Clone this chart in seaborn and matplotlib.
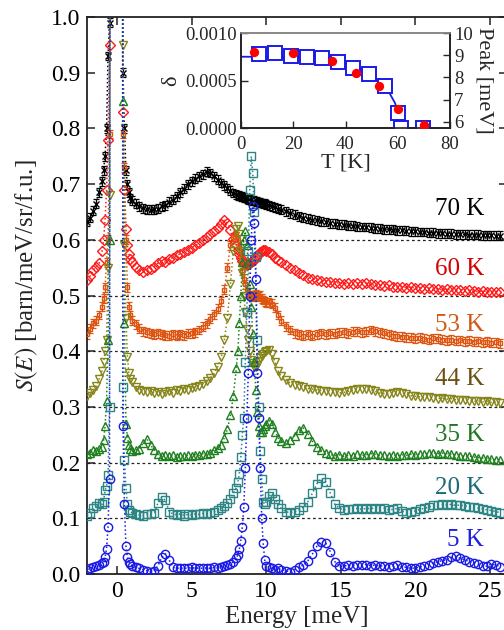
import matplotlib
matplotlib.use("Agg")
import matplotlib.pyplot as plt
from matplotlib.ticker import FormatStrFormatter
import seaborn as sns

# ---------------- data ----------------
energy = [-2.0, -1.8, -1.6, -1.4, -1.2, -1.0, -0.9, -0.8, -0.7, -0.6, -0.5,
          -0.45, 0.0, 0.35,
          0.4, 0.5, 0.6, 0.7, 0.8, 0.9, 1.0,
          1.25, 1.5, 1.75, 2.0, 2.25, 2.5, 2.75, 3.0, 3.25, 3.5, 3.75, 4.0,
          4.25, 4.5, 4.75, 5.0, 5.25, 5.5, 5.75, 6.0, 6.25, 6.5, 6.75, 7.0,
          7.2, 7.4, 7.6, 7.8,
          8.0, 8.1, 8.2, 8.3, 8.4, 8.5, 8.6, 8.7, 8.8, 8.9, 9.0, 9.1, 9.2,
          9.3, 9.4, 9.5, 9.6, 9.7, 9.8, 9.9, 10.0,
          10.2, 10.4, 10.6, 10.8, 11.0,
          11.3, 11.6, 11.9, 12.2, 12.5, 12.8, 13.1, 13.4, 13.7, 14.0,
          14.3, 14.6, 14.9, 15.2, 15.5, 15.8, 16.1, 16.4, 16.7, 17.0,
          17.3, 17.6, 17.9, 18.2, 18.5, 18.8, 19.1, 19.4, 19.7, 20.0,
          20.3, 20.6, 20.9, 21.2, 21.5, 21.8, 22.1, 22.4, 22.7, 23.0,
          23.3, 23.6, 23.9, 24.2, 24.5, 24.8, 25.1, 25.4, 25.7]

s_5K = [0.008, 0.010, 0.012, 0.014, 0.016, 0.020, 0.022, 0.030, 0.045, 0.085, 0.170,
        1.8, 30.0, 1.8,
        0.265, 0.125, 0.050, 0.030, 0.022, 0.018, 0.015,
        0.012, 0.010, 0.008, 0.006, 0.004, 0.006, 0.015, 0.030, 0.036, 0.025, 0.012, 0.010,
        0.010, 0.011, 0.010, 0.012, 0.010, 0.011, 0.010, 0.011, 0.010, 0.012, 0.011, 0.013,
        0.014, 0.016, 0.018, 0.022,
        0.028, 0.035, 0.045, 0.060, 0.085, 0.120, 0.190, 0.280, 0.360, 0.500, 0.600, 0.660,
        0.630, 0.530, 0.360, 0.280, 0.190, 0.100, 0.055, 0.025, 0.015,
        0.012, 0.010, 0.008, 0.010, 0.008,
        0.006, 0.004, 0.008, 0.012, 0.016, 0.024, 0.036, 0.050, 0.058, 0.055,
        0.040, 0.022, 0.015, 0.014, 0.016, 0.015, 0.017, 0.016, 0.017, 0.015,
        0.016, 0.014, 0.015, 0.013, 0.014, 0.016, 0.013, 0.012, 0.010, 0.011,
        0.013, 0.014, 0.016, 0.020, 0.022, 0.024, 0.026, 0.030, 0.032, 0.028,
        0.026, 0.022, 0.020, 0.018, 0.015, 0.014, 0.018, 0.016, 0.013]

s_20K = [0.105, 0.110, 0.118, 0.122, 0.128, 0.125, 0.130, 0.150, 0.158, 0.178, 0.300,
         1.8, 30.0, 1.8,
         0.335, 0.205, 0.155, 0.125, 0.115, 0.112, 0.110,
         0.108, 0.106, 0.105, 0.107, 0.108, 0.110, 0.128, 0.138, 0.132, 0.112, 0.108, 0.106,
         0.108, 0.105, 0.107, 0.106, 0.108, 0.107, 0.109, 0.108, 0.110, 0.112, 0.115, 0.118,
         0.122, 0.128, 0.135, 0.145,
         0.155, 0.165, 0.180, 0.210, 0.250, 0.280, 0.380, 0.470, 0.580, 0.690, 0.750, 0.720,
         0.650, 0.570, 0.420, 0.300, 0.220, 0.170, 0.130, 0.125, 0.130,
         0.140, 0.145, 0.135, 0.125, 0.118,
         0.112, 0.110, 0.112, 0.115, 0.120, 0.130, 0.145, 0.162, 0.172, 0.165,
         0.145, 0.125, 0.118, 0.115, 0.117, 0.116, 0.118, 0.116, 0.118, 0.117,
         0.119, 0.116, 0.118, 0.115, 0.116, 0.118, 0.113, 0.110, 0.112, 0.113,
         0.116, 0.118, 0.120, 0.123, 0.124, 0.125, 0.124, 0.125, 0.123, 0.124,
         0.122, 0.121, 0.120, 0.118, 0.117, 0.115, 0.114, 0.112, 0.110]

s_35K = [0.215, 0.218, 0.222, 0.220, 0.225, 0.228, 0.240, 0.265, 0.310, 0.420, 0.600,
         1.8, 30.0, 1.8,
         0.850, 0.450, 0.270, 0.245, 0.232, 0.225, 0.220,
         0.222, 0.225, 0.235, 0.242, 0.232, 0.222, 0.215, 0.212, 0.214, 0.211, 0.213, 0.210,
         0.212, 0.211, 0.213, 0.212, 0.214, 0.213, 0.216, 0.215, 0.218, 0.222, 0.226, 0.232,
         0.245, 0.260, 0.285, 0.320,
         0.370, 0.400, 0.450, 0.500, 0.560, 0.600, 0.615, 0.590, 0.560, 0.520, 0.480, 0.430,
         0.380, 0.330, 0.290, 0.265, 0.255, 0.255, 0.260, 0.265, 0.270,
         0.275, 0.270, 0.255, 0.245, 0.238,
         0.235, 0.240, 0.248, 0.258, 0.262, 0.252, 0.238, 0.228, 0.222, 0.218,
         0.215, 0.212, 0.214, 0.211, 0.213, 0.212, 0.215, 0.213, 0.214, 0.216,
         0.215, 0.213, 0.214, 0.212, 0.213, 0.212, 0.214, 0.213, 0.215, 0.214,
         0.216, 0.215, 0.217, 0.218, 0.216, 0.217, 0.216, 0.215, 0.214, 0.212,
         0.211, 0.212, 0.210, 0.209, 0.208, 0.207, 0.206, 0.205, 0.205]

s_44K = [0.320, 0.325, 0.330, 0.338, 0.350, 0.365, 0.380, 0.400, 0.420, 0.550, 0.680,
         1.8, 30.0, 1.8,
         0.950, 0.590, 0.460, 0.390, 0.360, 0.350, 0.345,
         0.335, 0.330, 0.328, 0.326, 0.328, 0.325, 0.327, 0.324, 0.326, 0.328, 0.325, 0.330,
         0.328, 0.332, 0.330, 0.334, 0.336, 0.338, 0.342, 0.346, 0.352, 0.360, 0.372, 0.390,
         0.420, 0.460, 0.520, 0.580,
         0.620, 0.625, 0.610, 0.580, 0.540, 0.500, 0.470, 0.440, 0.420, 0.400, 0.385, 0.378,
         0.372, 0.372, 0.376, 0.382, 0.388, 0.392, 0.395, 0.398, 0.400,
         0.402, 0.395, 0.380, 0.365, 0.355,
         0.348, 0.343, 0.340, 0.338, 0.336, 0.333, 0.332, 0.330, 0.329, 0.328,
         0.326, 0.327, 0.325, 0.326, 0.328, 0.330, 0.332, 0.333, 0.332, 0.330,
         0.328, 0.325, 0.324, 0.323, 0.325, 0.327, 0.325, 0.323, 0.320, 0.319,
         0.318, 0.317, 0.318, 0.316, 0.315, 0.316, 0.314, 0.315, 0.313, 0.312,
         0.313, 0.311, 0.310, 0.311, 0.309, 0.310, 0.308, 0.309, 0.307]

s_53K = [0.430, 0.440, 0.450, 0.455, 0.465, 0.480, 0.495, 0.515, 0.560, 0.600, 0.790,
         1.8, 30.0, 1.8,
         0.790, 0.730, 0.600, 0.515, 0.480, 0.465, 0.455,
         0.448, 0.440, 0.436, 0.434, 0.432, 0.430, 0.432, 0.430, 0.429, 0.428, 0.430, 0.428,
         0.430, 0.429, 0.431, 0.432, 0.434, 0.438, 0.444, 0.450, 0.458, 0.466, 0.476, 0.490,
         0.510, 0.550, 0.590, 0.605,
         0.610, 0.600, 0.585, 0.565, 0.545, 0.530, 0.520, 0.510, 0.505, 0.500, 0.500, 0.498,
         0.500, 0.502, 0.500, 0.498, 0.500, 0.495, 0.492, 0.490, 0.488,
         0.488, 0.485, 0.478, 0.465, 0.455,
         0.445, 0.438, 0.432, 0.430, 0.428, 0.430, 0.428, 0.430, 0.432, 0.430,
         0.432, 0.431, 0.433, 0.434, 0.432, 0.435, 0.436, 0.434, 0.435, 0.438,
         0.436, 0.434, 0.432, 0.430, 0.428, 0.427, 0.426, 0.425, 0.424, 0.423,
         0.424, 0.422, 0.421, 0.423, 0.422, 0.421, 0.420, 0.421, 0.419, 0.420,
         0.418, 0.419, 0.417, 0.418, 0.416, 0.417, 0.415, 0.416, 0.414]

s_60K = [0.528, 0.535, 0.545, 0.552, 0.558, 0.580, 0.600, 0.635, 0.690, 0.780, 0.950,
         1.8, 30.0, 1.8,
         0.830, 0.690, 0.620, 0.590, 0.575, 0.565, 0.560,
         0.552, 0.545, 0.542, 0.545, 0.548, 0.552, 0.558, 0.562, 0.560, 0.565, 0.568, 0.572,
         0.575, 0.578, 0.582, 0.586, 0.590, 0.594, 0.600, 0.605, 0.610, 0.615, 0.622, 0.628,
         0.635, 0.630, 0.618, 0.602,
         0.590, 0.582, 0.575, 0.568, 0.562, 0.558, 0.556, 0.555, 0.556, 0.558, 0.560, 0.562,
         0.565, 0.568, 0.572, 0.575, 0.578, 0.580, 0.582, 0.582, 0.580,
         0.578, 0.574, 0.568, 0.564, 0.560,
         0.555, 0.550, 0.545, 0.540, 0.536, 0.532, 0.530, 0.528, 0.526, 0.525,
         0.524, 0.522, 0.523, 0.521, 0.522, 0.520, 0.522, 0.521, 0.523, 0.520,
         0.518, 0.519, 0.517, 0.518, 0.516, 0.515, 0.516, 0.514, 0.515, 0.513,
         0.514, 0.512, 0.513, 0.511, 0.512, 0.510, 0.511, 0.510, 0.509, 0.510,
         0.508, 0.509, 0.508, 0.507, 0.508, 0.507, 0.506, 0.507, 0.506]

s_70K = [0.632, 0.640, 0.652, 0.665, 0.685, 0.705, 0.725, 0.750, 0.800, 0.930, 0.990,
         1.8, 30.0, 1.8,
         0.900, 0.800, 0.725, 0.700, 0.685, 0.675, 0.670,
         0.665, 0.660, 0.657, 0.655, 0.654, 0.655, 0.656, 0.660, 0.662, 0.668, 0.672, 0.678,
         0.685, 0.692, 0.700, 0.705, 0.710, 0.714, 0.718, 0.722, 0.720, 0.714, 0.708, 0.702,
         0.698, 0.693, 0.688, 0.684,
         0.682, 0.680, 0.679, 0.678, 0.677, 0.676, 0.675, 0.674, 0.673, 0.672, 0.671, 0.670,
         0.670, 0.669, 0.668, 0.667, 0.667, 0.666, 0.665, 0.665, 0.664,
         0.662, 0.660, 0.658, 0.656, 0.654,
         0.651, 0.648, 0.645, 0.642, 0.640, 0.638, 0.636, 0.635, 0.633, 0.632,
         0.630, 0.629, 0.628, 0.627, 0.626, 0.625, 0.624, 0.623, 0.623, 0.622,
         0.621, 0.620, 0.619, 0.619, 0.618, 0.617, 0.617, 0.616, 0.615, 0.615,
         0.614, 0.614, 0.613, 0.613, 0.612, 0.612, 0.611, 0.611, 0.610, 0.610,
         0.610, 0.609, 0.609, 0.609, 0.608, 0.608, 0.608, 0.607, 0.607]

temp_labels = ["70 K", "60 K", "53 K", "44 K", "35 K", "20 K", "5 K"]
baselines = [0.6, 0.5, 0.4, 0.3, 0.2, 0.1]

# inset data
T_delta = [6.9, 13.0, 19.1, 25.2, 31.0, 37.1, 43.0, 49.0, 55.1, 60.1, 61.3, 69.7]
delta = [0.00078, 0.000786, 0.00076, 0.00075, 0.00074, 0.00070, 0.00063,
         0.00057, 0.00044, 0.00016, 0.0, 0.0]
T_fit = [0, 10, 20, 25, 30, 35, 40, 45, 50, 55, 57, 59, 60, 61, 61.5, 70]
delta_fit = [0.00075, 0.00075, 0.000745, 0.00074, 0.00073, 0.00071, 0.00067,
             0.00062, 0.00055, 0.00043, 0.00036, 0.00026, 0.00018, 0.00007, 0.0, 0.0]
T_peak = [5, 20, 35, 44, 53, 60, 70]
peak = [9.16, 9.09, 8.74, 8.19, 7.63, 6.57, 5.87]

for s in (s_5K, s_20K, s_35K, s_44K, s_53K, s_60K, s_70K):
    assert len(s) == len(energy)

# ---------------- style ----------------
sns.set_theme(style="ticks")
plt.rcParams["font.family"] = ["Liberation Serif", "DejaVu Serif"]
plt.rcParams["mathtext.fontset"] = "stix"
plt.rcParams["axes.edgecolor"] = "#222222"

fig = plt.figure(figsize=(5.04, 6.3), dpi=100)
ax = fig.add_axes([87 / 504, 56 / 630, 420 / 504, 557 / 630])

for b in baselines:
    ax.axhline(b, color="#222222", ls=(0, (2.2, 2.2)), lw=0.9, zorder=0.5)

# series: values, line colour, marker, size, text colour, label baseline, errorbar
series = [
    (s_70K, "#000000", "x", 5.0, "#000000", 0.644, True),
    (s_60K, "#ff1a1a", "D", 5.0, "#d40000", 0.536, False),
    (s_53K, "#dd5511", "s", 3.4, "#d05a14", 0.437, True),
    (s_44K, "#85851a", "v", 6.4, "#6e5014", 0.339, False),
    (s_35K, "#1f801f", "^", 6.4, "#1e781e", 0.238, False),
    (s_20K, "#2e8585", "s", 5.8, "#1a6a78", 0.143, False),
    (s_5K, "#1a1ae6", "o", 6.0, "#2020dd", 0.051, False),
]

for (vals, col, mk, ms, tcol, ty, eb), lab in zip(series, temp_labels):
    if eb:
        ax.errorbar(energy, vals, yerr=0.008, fmt="none", ecolor=col,
                    elinewidth=0.9, capsize=2.4, capthick=0.9, zorder=2)
    sns.lineplot(x=energy, y=vals, ax=ax, color=col, marker=mk, markersize=ms,
                 markerfacecolor="none", markeredgecolor=col, markeredgewidth=1.0,
                 linestyle=":", linewidth=1.1, errorbar=None, sort=False,
                 legend=False, zorder=3)
    ax.text(24.6, ty, lab, ha="right", va="baseline", fontsize=18, color=tcol)

ax.set_xlim(-2.01, 26.14)
ax.set_ylim(0, 1.0)
ax.set_xticks([0, 5, 10, 15, 20, 25])
ax.set_yticks([0.0, 0.1, 0.2, 0.3, 0.4, 0.5, 0.6, 0.7, 0.8, 0.9, 1.0])
ax.yaxis.set_major_formatter(FormatStrFormatter("%.1f"))
ax.tick_params(direction="in", length=6, width=1.1, top=True, right=True,
               labelsize=17, pad=5, colors="#222222", labelcolor="black")
for sp in ax.spines.values():
    sp.set_linewidth(1.3)
ax.set_xlabel("Energy [meV]", fontsize=18, labelpad=3)
ax.set_ylabel(r"$S(E)$ [barn/meV/sr/f.u.]", fontsize=18)
ax.yaxis.set_label_coords(-0.112, 0.535)

# ---------------- inset ----------------
axi = fig.add_axes([241 / 504, 502 / 630, 209 / 504, 95 / 630])
axi.set_facecolor("white")
sns.lineplot(x=T_fit, y=delta_fit, ax=axi, color="#1a1ae6", linewidth=1.3,
             errorbar=None, sort=False, legend=False, zorder=2)
sns.lineplot(x=T_delta, y=delta, ax=axi, color="#1a1ae6", marker="s",
             markersize=10.5, markerfacecolor="white", markeredgecolor="#1a1ae6",
             markeredgewidth=1.4, linestyle="none", errorbar=None, sort=False,
             legend=False, zorder=3)
axi.set_xlim(0, 80)
axi.set_ylim(0, 0.001)
axi.set_xticks([0, 20, 40, 60, 80])
axi.set_yticks([0.0, 0.0005, 0.0010])
axi.yaxis.set_major_formatter(FormatStrFormatter("%.4f"))
axi.tick_params(direction="in", length=5, width=1.0, labelsize=13.5, right=False)
axi.tick_params(axis="y", pad=3)
axi.tick_params(axis="x", pad=6)
axi.set_xlabel("T [K]", fontsize=16, labelpad=0)
axi.set_ylabel("δ", fontsize=16, labelpad=3)
axi.spines["top"].set_color("#888888")
for sp in axi.spines.values():
    sp.set_linewidth(1.2)

axr = axi.twinx()
sns.scatterplot(x=T_peak, y=peak, ax=axr, color="#ff0000", s=45,
                edgecolor="#ff0000", linewidth=0, legend=False, zorder=4)
axr.set_ylim(5.73, 10.0)
axr.set_yticks([6, 7, 8, 9, 10])
axr.tick_params(direction="in", length=5, width=1.0, labelsize=13.5, pad=3)
axr.set_ylabel("Peak [meV]", fontsize=16, rotation=270, va="bottom", labelpad=1)
for sp in axr.spines.values():
    sp.set_linewidth(1.2)
axr.spines["top"].set_color("#888888")

fig.savefig("out.png", dpi=100)
